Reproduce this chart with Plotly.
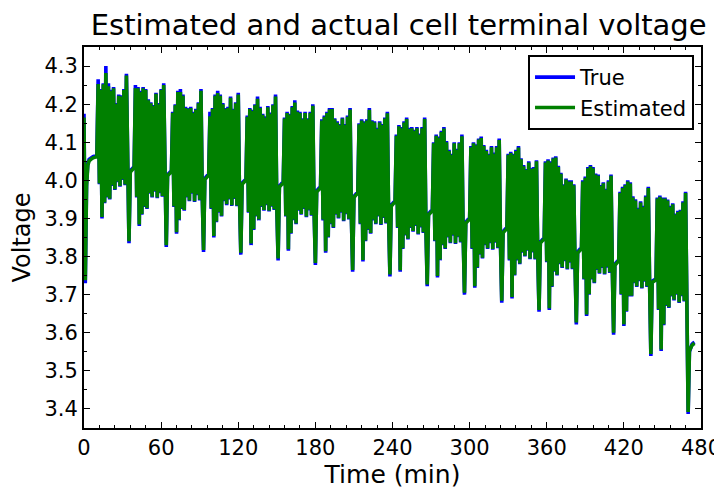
import plotly.graph_objects as go

voltage_true = [
    4.175, 3.730, 3.990, 4.045, 4.055, 4.058, 4.060, 4.062, 4.063, 4.064, 4.065,
    4.265, 3.990, 4.240, 3.900, 4.255, 3.940, 4.300, 3.955, 4.255, 3.950, 4.238, 3.985, 4.245, 3.975, 4.203, 3.995, 4.225, 3.983, 4.223, 4.001, 4.240, 3.987, 4.280, 3.999, 3.835, 4.025, 4.030, 4.033, 4.036,
    4.250, 3.955, 4.245, 3.880, 4.235, 3.910, 4.245, 3.930, 4.240, 3.925, 4.213, 3.965, 4.205, 3.955, 4.198, 3.970, 4.230, 3.953, 4.203, 3.966, 4.240, 3.957, 4.255, 3.964, 3.825, 4.015, 4.020, 4.022, 4.025,
    4.180, 3.930, 4.200, 3.860, 4.235, 3.895, 4.240, 3.925, 4.225, 3.920, 4.193, 3.955, 4.190, 3.945, 4.193, 3.965, 4.180, 3.943, 4.188, 3.961, 4.205, 3.947, 4.240, 3.959, 3.812, 4.005, 4.010, 4.013, 4.015,
    4.180, 3.925, 4.190, 3.850, 4.225, 3.890, 4.235, 3.915, 4.225, 3.905, 4.203, 3.945, 4.190, 3.935, 4.193, 3.950, 4.220, 3.933, 4.188, 3.951, 4.205, 3.932, 4.230, 3.949, 3.805, 3.993, 3.998, 4.000, 4.002,
    4.170, 3.915, 4.190, 3.830, 4.185, 3.870, 4.200, 3.905, 4.220, 3.895, 4.193, 3.930, 4.175, 3.920, 4.168, 3.935, 4.195, 3.918, 4.178, 3.931, 4.200, 3.922, 4.225, 3.929, 3.790, 3.985, 3.990, 3.993, 3.995,
    4.165, 3.905, 4.180, 3.815, 4.175, 3.860, 4.195, 3.895, 4.210, 3.885, 4.183, 3.920, 4.180, 3.910, 4.163, 3.925, 4.180, 3.903, 4.163, 3.921, 4.180, 3.907, 4.200, 3.919, 3.778, 3.972, 3.977, 3.980, 3.982,
    4.160, 3.895, 4.170, 3.810, 4.180, 3.850, 4.190, 3.885, 4.190, 3.875, 4.163, 3.910, 4.155, 3.900, 4.148, 3.915, 4.165, 3.893, 4.148, 3.911, 4.170, 3.897, 4.190, 3.904, 3.760, 3.958, 3.963, 3.966, 3.968,
    4.150, 3.885, 4.160, 3.787, 4.155, 3.840, 4.160, 3.870, 4.190, 3.860, 4.158, 3.895, 4.155, 3.885, 4.138, 3.905, 4.155, 3.883, 4.148, 3.901, 4.165, 3.887, 4.180, 3.899, 3.748, 3.935, 3.940, 3.943, 3.945,
    4.120, 3.875, 4.145, 3.760, 4.140, 3.820, 4.155, 3.855, 4.165, 3.845, 4.138, 3.875, 4.140, 3.865, 4.133, 3.880, 4.140, 3.858, 4.123, 3.876, 4.140, 3.862, 4.165, 3.874, 3.722, 3.912, 3.917, 3.920, 3.922,
    4.100, 3.840, 4.120, 3.745, 4.115, 3.790, 4.130, 3.830, 4.140, 3.820, 4.103, 3.850, 4.080, 3.835, 4.070, 3.855, 4.100, 3.833, 4.083, 3.851, 4.100, 3.837, 4.120, 3.849, 3.700, 3.890, 3.895, 3.898, 3.900,
    4.090, 3.820, 4.100, 3.718, 4.095, 3.770, 4.110, 3.805, 4.115, 3.795, 4.093, 3.830, 4.080, 3.820, 4.070, 3.835, 4.090, 3.818, 4.073, 3.836, 4.090, 3.822, 4.110, 3.834, 3.679, 3.865, 3.870, 3.873, 3.875,
    4.070, 3.790, 4.075, 3.690, 4.070, 3.750, 4.080, 3.790, 4.090, 3.780, 4.058, 3.810, 4.040, 3.800, 4.030, 3.815, 4.050, 3.793, 4.033, 3.811, 4.035, 3.792, 4.053, 3.804, 3.655, 3.838, 3.843, 3.846, 3.848,
    4.050, 3.785, 4.055, 3.660, 4.050, 3.720, 4.060, 3.760, 4.063, 3.750, 4.038, 3.780, 4.020, 3.770, 3.990, 3.788, 4.005, 3.766, 4.000, 3.784, 4.000, 3.767, 3.990, 3.779, 3.622, 3.812, 3.817, 3.820, 3.822,
    4.000, 3.740, 4.010, 3.644, 4.035, 3.700, 4.040, 3.740, 4.035, 3.730, 4.018, 3.765, 4.015, 3.755, 3.988, 3.770, 3.995, 3.753, 3.978, 3.771, 4.000, 3.757, 4.015, 3.769, 3.595, 3.780, 3.785, 3.788, 3.790,
    3.970, 3.700, 3.983, 3.618, 3.990, 3.655, 4.000, 3.695, 3.995, 3.695, 3.958, 3.730, 3.950, 3.720, 3.928, 3.735, 3.945, 3.716, 3.933, 3.734, 3.960, 3.720, 3.983, 3.732, 3.539, 3.735, 3.738, 3.740, 3.742,
    3.955, 3.660, 3.960, 3.552, 3.955, 3.620, 3.955, 3.670, 3.950, 3.665, 3.933, 3.695, 3.940, 3.685, 3.913, 3.700, 3.920, 3.678, 3.923, 3.696, 3.945, 3.682, 3.970, 3.694, 3.387, 3.550, 3.565, 3.570, 3.573, 3.575,
]

voltage_estimated = [
    4.165, 3.738, 3.985, 4.040, 4.051, 4.055, 4.057, 4.059, 4.060, 4.061, 4.062,
    4.253, 3.992, 4.237, 3.904, 4.252, 3.942, 4.282, 3.957, 4.247, 3.952, 4.235, 3.987, 4.242, 3.977, 4.200, 3.997, 4.222, 3.985, 4.220, 4.003, 4.237, 3.989, 4.275, 4.001, 3.840, 4.022, 4.027, 4.030, 4.033,
    4.242, 3.957, 4.242, 3.884, 4.232, 3.912, 4.242, 3.932, 4.237, 3.927, 4.210, 3.967, 4.202, 3.957, 4.195, 3.972, 4.227, 3.955, 4.200, 3.968, 4.237, 3.959, 4.250, 3.966, 3.830, 4.012, 4.017, 4.019, 4.022,
    4.177, 3.932, 4.197, 3.864, 4.232, 3.897, 4.232, 3.927, 4.222, 3.922, 4.190, 3.957, 4.187, 3.947, 4.190, 3.967, 4.177, 3.945, 4.185, 3.963, 4.202, 3.949, 4.235, 3.961, 3.817, 4.002, 4.007, 4.010, 4.012,
    4.168, 3.927, 4.187, 3.854, 4.222, 3.892, 4.229, 3.917, 4.222, 3.907, 4.200, 3.947, 4.187, 3.937, 4.190, 3.952, 4.217, 3.935, 4.185, 3.953, 4.202, 3.934, 4.225, 3.951, 3.810, 3.990, 3.995, 3.997, 3.999,
    4.167, 3.917, 4.187, 3.834, 4.182, 3.872, 4.197, 3.907, 4.214, 3.897, 4.190, 3.932, 4.172, 3.922, 4.165, 3.937, 4.192, 3.920, 4.175, 3.933, 4.197, 3.924, 4.220, 3.931, 3.795, 3.982, 3.987, 3.990, 3.992,
    4.162, 3.907, 4.177, 3.819, 4.172, 3.862, 4.192, 3.897, 4.204, 3.887, 4.180, 3.922, 4.177, 3.912, 4.160, 3.927, 4.177, 3.905, 4.160, 3.923, 4.177, 3.909, 4.196, 3.921, 3.783, 3.969, 3.974, 3.977, 3.979,
    4.157, 3.897, 4.167, 3.814, 4.177, 3.852, 4.186, 3.887, 4.187, 3.877, 4.160, 3.912, 4.152, 3.902, 4.145, 3.917, 4.162, 3.895, 4.145, 3.913, 4.167, 3.899, 4.186, 3.906, 3.765, 3.955, 3.960, 3.963, 3.965,
    4.147, 3.887, 4.157, 3.791, 4.152, 3.842, 4.157, 3.872, 4.185, 3.862, 4.155, 3.897, 4.152, 3.887, 4.135, 3.907, 4.152, 3.885, 4.145, 3.903, 4.162, 3.889, 4.176, 3.901, 3.753, 3.932, 3.937, 3.940, 3.942,
    4.117, 3.877, 4.142, 3.764, 4.137, 3.822, 4.152, 3.857, 4.161, 3.847, 4.135, 3.877, 4.137, 3.867, 4.130, 3.882, 4.137, 3.860, 4.120, 3.878, 4.137, 3.864, 4.161, 3.876, 3.727, 3.909, 3.914, 3.917, 3.919,
    4.097, 3.842, 4.117, 3.749, 4.112, 3.792, 4.127, 3.832, 4.136, 3.822, 4.100, 3.852, 4.077, 3.837, 4.067, 3.857, 4.097, 3.835, 4.080, 3.853, 4.097, 3.839, 4.116, 3.851, 3.705, 3.887, 3.892, 3.895, 3.897,
    4.087, 3.822, 4.097, 3.722, 4.092, 3.772, 4.107, 3.807, 4.111, 3.797, 4.090, 3.832, 4.077, 3.822, 4.067, 3.837, 4.087, 3.820, 4.070, 3.838, 4.087, 3.824, 4.106, 3.836, 3.684, 3.862, 3.867, 3.870, 3.872,
    4.067, 3.792, 4.072, 3.694, 4.067, 3.752, 4.077, 3.792, 4.086, 3.782, 4.055, 3.812, 4.037, 3.802, 4.027, 3.817, 4.047, 3.795, 4.030, 3.813, 4.032, 3.794, 4.050, 3.806, 3.660, 3.835, 3.840, 3.843, 3.845,
    4.047, 3.787, 4.052, 3.664, 4.047, 3.722, 4.057, 3.762, 4.060, 3.752, 4.035, 3.782, 4.017, 3.772, 3.987, 3.790, 4.002, 3.768, 3.997, 3.786, 3.997, 3.769, 3.987, 3.781, 3.627, 3.809, 3.814, 3.817, 3.819,
    3.997, 3.742, 4.007, 3.648, 4.032, 3.702, 4.037, 3.742, 4.032, 3.732, 4.015, 3.767, 4.012, 3.757, 3.985, 3.772, 3.992, 3.755, 3.975, 3.773, 3.997, 3.759, 4.012, 3.771, 3.600, 3.777, 3.782, 3.785, 3.787,
    3.967, 3.702, 3.980, 3.622, 3.987, 3.657, 3.997, 3.697, 3.992, 3.697, 3.955, 3.732, 3.947, 3.722, 3.925, 3.737, 3.942, 3.718, 3.930, 3.736, 3.957, 3.722, 3.980, 3.734, 3.544, 3.732, 3.735, 3.737, 3.739,
    3.952, 3.662, 3.957, 3.556, 3.952, 3.622, 3.952, 3.672, 3.947, 3.667, 3.930, 3.697, 3.937, 3.687, 3.910, 3.702, 3.917, 3.680, 3.920, 3.698, 3.942, 3.684, 3.967, 3.696, 3.392, 3.553, 3.563, 3.567, 3.570, 3.572,
]

# sample times: one sample per minute
time_min = list(range(len(voltage_true)))

x_tick_values = [0, 60, 120, 180, 240, 300, 360, 420, 480]
y_tick_values = [3.4, 3.5, 3.6, 3.7, 3.8, 3.9, 4.0, 4.1, 4.2, 4.3]

series_names = ["True", "Estimated"]
series_colors = ["#0000ff", "#008000"]

FONT = "DejaVu Sans, Liberation Sans, Arial, sans-serif"

fig = go.Figure()
for name, color, vals in zip(series_names, series_colors, [voltage_true, voltage_estimated]):
    fig.add_trace(go.Scatter(
        x=time_min[:len(vals)], y=vals, mode="lines", name=name,
        line=dict(color=color, width=3.6),
    ))

axis_common = dict(
    showgrid=False, zeroline=False, automargin=False,
    showline=True, linecolor="black", linewidth=2, mirror="allticks",
    ticks="inside", ticklen=6, tickwidth=1.2, tickcolor="black",
    tickfont=dict(family=FONT, size=21, color="black"),
)

# the page body adds an 8px offset, so the figure is 8px smaller on each axis
fig.update_layout(
    width=714, height=485,
    margin=dict(l=76, r=21, t=39, b=65, autoexpand=False),
    paper_bgcolor="white", plot_bgcolor="white",
    font=dict(family=FONT, color="black"),
    title=dict(text="Estimated and actual cell terminal voltage",
               x=0.51, xref="paper", xanchor="center",
               y=0.965, yref="container", yanchor="middle",
               font=dict(family=FONT, size=29, color="black")),
    xaxis=dict(range=[0, 480], tickvals=x_tick_values,
               minor=dict(ticks="inside", ticklen=3, dtick=12, tick0=0, tickcolor="black", tickwidth=1),
               title=dict(text="Time (min)", font=dict(family=FONT, size=25), standoff=6),
               **axis_common),
    yaxis=dict(range=[3.35, 4.35], tickvals=y_tick_values, tickformat=".1f",
               minor=dict(ticks="inside", ticklen=3, dtick=0.05, tick0=3.35, tickcolor="black", tickwidth=1),
               title=dict(text="Voltage", font=dict(family=FONT, size=24), standoff=14),
               **axis_common),
    legend=dict(x=0.9887, y=0.979, xanchor="right", yanchor="top",
                bgcolor="white", bordercolor="black", borderwidth=2,
                font=dict(family=FONT, size=21, color="black"),
                itemwidth=40, tracegroupgap=0),
    showlegend=True,
)

fig.write_html("out.html")
